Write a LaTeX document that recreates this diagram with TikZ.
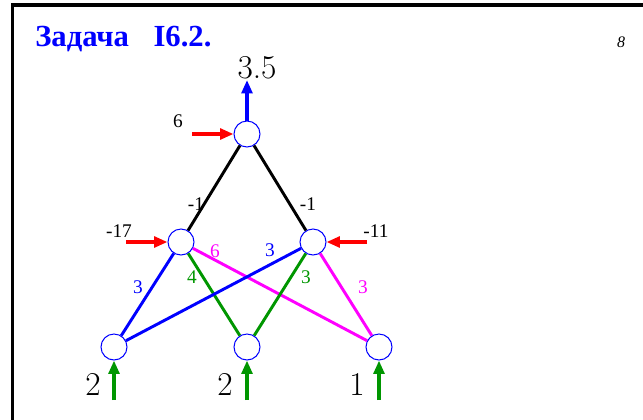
\documentclass[tikz,border=0pt]{standalone}
\usepackage{fontspec}
\newfontfamily\timesfont{Liberation Serif}
\usetikzlibrary{arrows.meta, positioning}
\definecolor{gruen}{RGB}{0,150,0}
\definecolor{lila}{RGB}{255,0,255}

\begin{document}
\begin{tikzpicture}[
        x=0.75pt, y=-0.75pt,
        every node/.style={font=\timesfont\fontsize{14.5}{14.5}\selectfont},
        neuron/.style={circle, draw=blue, line width=0.75pt, fill=white,
                       minimum size=19.5pt, inner sep=0pt},
        kante/.style={line width=2.2pt},
        pfeil/.style={line width=3pt, -{Triangle[length=10pt,width=8pt]}},
        wert/.style={font=\fontsize{25}{25}\selectfont},
      ]
      \useasboundingbox (0,0) rectangle (643,419);
      \clip (0,0) rectangle (643,419);
      \draw[line width=2.4pt] (650,5) -- (12.5,5) -- (12.5,425);

      % Kopf
      \node[anchor=base west, text=blue, inner sep=0pt,
            font=\timesfont\bfseries\fontsize{23}{23}\selectfont]
        (titel) at (35,46) {Задача\hspace{0.8em}I6.2.};
      \node[font=\timesfont\itshape\fontsize{12}{12}\selectfont]
        (seite) at (621,42) {8};

      % Neuronen
      \node[neuron] (o)  at (247,134) {};
      \node[neuron] (h1) at (181,242) {};
      \node[neuron] (h2) at (313,242) {};
      \node[neuron] (x1) at (114,347) {};
      \node[neuron] (x2) at (247,347) {};
      \node[neuron] (x3) at (379,347) {};

      % freie Enden
      \coordinate (y)  at (247,80);
      \coordinate (b0) at (192,134);
      \coordinate (b1) at (126,242);
      \coordinate (b2) at (367,242);
      \coordinate (e1) at (114,400);
      \coordinate (e2) at (247,400);
      \coordinate (e3) at (379,400);

      % Verbindungen
      \draw[kante]        (o)  -- (h1);
      \draw[kante]        (o)  -- (h2);
      \draw[kante, blue]  (h1) -- (x1);
      \draw[kante, gruen] (h1) -- (x2);
      \draw[kante, lila]  (h1) -- (x3);
      \draw[kante, blue]  (h2) -- (x1);
      \draw[kante, gruen] (h2) -- (x2);
      \draw[kante, lila]  (h2) -- (x3);

      % Ein- und Ausgaenge
      \draw[pfeil, blue]  (o)  -- (y);
      \draw[pfeil, red]   (b0) -- (o);
      \draw[pfeil, red]   (b1) -- (h1);
      \draw[pfeil, red]   (b2) -- (h2);
      \draw[pfeil, gruen] (e1) -- (x1);
      \draw[pfeil, gruen] (e2) -- (x2);
      \draw[pfeil, gruen] (e3) -- (x3);

      % Gewichte und Schwellen
      \node (s0) at (178,121) {6};
      \node (s1) at (119,231) {-17};
      \node (s2) at (376,231) {-11};
      \node (w1) at (196,204) {-1};
      \node (w2) at (308,204) {-1};
      \node[text=lila]  (w3) at (215,251) {6};
      \node[text=blue]  (w4) at (270,250) {3};
      \node[text=gruen] (w5) at (192,277) {4};
      \node[text=gruen] (w6) at (306,277) {3};
      \node[text=blue]  (w7) at (138,287) {3};
      \node[text=lila]  (w8) at (363,287) {3};

      % Werte
      \node[wert] (aus) at (257,68) {3.5};
      \node[wert] (ein1) at (93,384) {2};
      \node[wert] (ein2) at (225,384) {2};
      \node[wert] (ein3) at (357,384) {1};
    \end{tikzpicture}
\end{document}
